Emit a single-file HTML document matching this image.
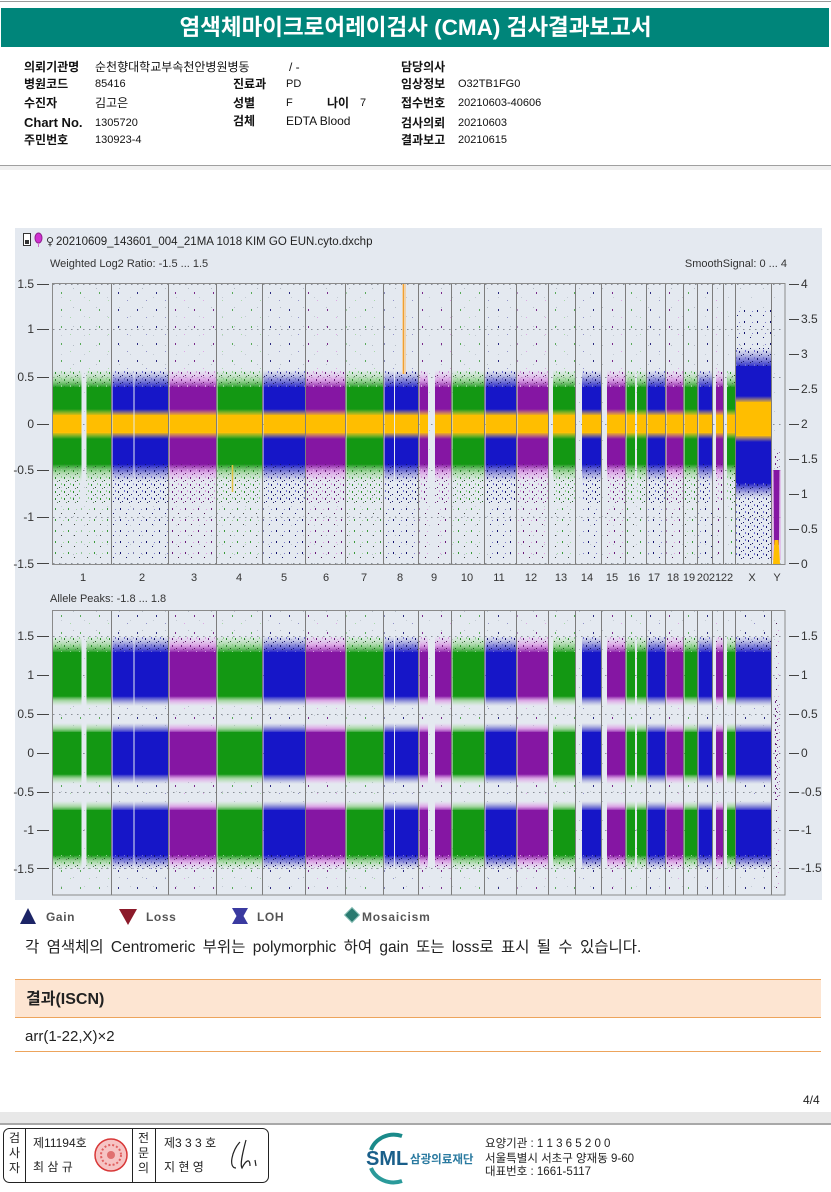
<!DOCTYPE html>
<html><head><meta charset="utf-8">
<style>
html,body{margin:0;padding:0;background:#fff;}
body{width:831px;height:1192px;position:relative;overflow:hidden;font-family:"Liberation Sans","Noto Sans CJK KR",sans-serif;color:#111;}
.a{position:absolute;white-space:nowrap;}
.l{font-weight:bold;font-size:12px;line-height:14px;}
.v{font-size:12px;line-height:14px;}
.n{font-size:11px;line-height:14px;}
</style></head><body>

<!-- header -->
<div class="a" style="left:0;top:1px;width:831px;height:1px;background:#9a9a9a"></div>
<div class="a" style="left:1px;top:8px;width:828px;height:39px;background:#00857a;"></div>
<div class="a" style="left:0;top:8px;width:831px;height:39px;line-height:39px;text-align:center;color:#fff;font-size:22.5px;font-weight:bold;">염색체마이크로어레이검사 (CMA) 검사결과보고서</div>

<div class="a l" style="left:24px;top:60px">의뢰기관명</div>
<div class="a v" style="left:95px;top:60px">순천향대학교부속천안병원병동</div>
<div class="a v" style="left:289px;top:60px">/ -</div>
<div class="a l" style="left:401px;top:60px">담당의사</div>

<div class="a l" style="left:24px;top:77px">병원코드</div>
<div class="a n" style="left:95px;top:77px">85416</div>
<div class="a l" style="left:233px;top:77px">진료과</div>
<div class="a n" style="left:286px;top:77px">PD</div>
<div class="a l" style="left:401px;top:77px">임상정보</div>
<div class="a n" style="left:458px;top:77px">O32TB1FG0</div>

<div class="a l" style="left:24px;top:96px">수진자</div>
<div class="a v" style="left:95px;top:96px">김고은</div>
<div class="a l" style="left:233px;top:96px">성별</div>
<div class="a n" style="left:286px;top:96px">F</div>
<div class="a l" style="left:327px;top:96px">나이</div>
<div class="a n" style="left:360px;top:96px">7</div>
<div class="a l" style="left:401px;top:96px">접수번호</div>
<div class="a n" style="left:458px;top:96px">20210603-40606</div>

<div class="a l" style="left:24px;top:116px;font-size:13px">Chart No.</div>
<div class="a n" style="left:95px;top:116px">1305720</div>
<div class="a l" style="left:233px;top:114px">검체</div>
<div class="a v" style="left:286px;top:114px">EDTA Blood</div>
<div class="a l" style="left:401px;top:116px">검사의뢰</div>
<div class="a n" style="left:458px;top:116px">20210603</div>

<div class="a l" style="left:24px;top:133px">주민번호</div>
<div class="a n" style="left:95px;top:133px">130923-4</div>
<div class="a l" style="left:401px;top:133px">결과보고</div>
<div class="a n" style="left:458px;top:133px">20210615</div>

<div class="a" style="left:0;top:165px;width:831px;height:1px;background:#a0a0a0"></div>
<div class="a" style="left:0;top:166px;width:831px;height:4px;background:#f0f0f0"></div>

<!-- chart -->
<svg class="a" style="left:0;top:0" width="831" height="940" viewBox="0 0 831 940" xmlns="http://www.w3.org/2000/svg" font-family="Liberation Sans, sans-serif">
<defs>
 <clipPath id="cG">
  <rect x="53" y="280" width="28.5" height="620"/><rect x="86.5" y="280" width="24.5" height="620"/>
  <rect x="217.5" y="280" width="44.5" height="620"/><rect x="346.5" y="280" width="36.5" height="620"/>
  <rect x="452.5" y="280" width="31.5" height="620"/><rect x="553" y="280" width="22" height="620"/>
  <rect x="626.5" y="280" width="8.5" height="620"/><rect x="637" y="280" width="9" height="620"/>
  <rect x="684.5" y="280" width="12.5" height="620"/><rect x="727" y="280" width="8" height="620"/>
 </clipPath>
 <clipPath id="cB">
  <rect x="112.5" y="280" width="21" height="620"/><rect x="134.5" y="280" width="33.5" height="620"/>
  <rect x="263.5" y="280" width="41.5" height="620"/><rect x="384.5" y="280" width="9.5" height="620"/>
  <rect x="395" y="280" width="23" height="620"/><rect x="485.5" y="280" width="30.5" height="620"/>
  <rect x="582" y="280" width="19" height="620"/><rect x="647.5" y="280" width="18" height="620"/>
  <rect x="698.5" y="280" width="13.5" height="620"/>
 </clipPath>
 <clipPath id="cBX">
  <rect x="112.5" y="280" width="21" height="620"/><rect x="134.5" y="280" width="33.5" height="620"/>
  <rect x="263.5" y="280" width="41.5" height="620"/><rect x="384.5" y="280" width="9.5" height="620"/>
  <rect x="395" y="280" width="23" height="620"/><rect x="485.5" y="280" width="30.5" height="620"/>
  <rect x="582" y="280" width="19" height="620"/><rect x="647.5" y="280" width="18" height="620"/>
  <rect x="698.5" y="280" width="13.5" height="620"/><rect x="736" y="280" width="35" height="620"/>
 </clipPath>
 <clipPath id="cP">
  <rect x="169.5" y="280" width="46.5" height="620"/><rect x="306" y="280" width="39" height="620"/>
  <rect x="419.5" y="280" width="8.5" height="620"/><rect x="435" y="280" width="16" height="620"/>
  <rect x="517.5" y="280" width="30.5" height="620"/><rect x="607" y="280" width="18" height="620"/>
  <rect x="666.5" y="280" width="16.5" height="620"/><rect x="716" y="280" width="7" height="620"/>
 </clipPath>

 <linearGradient id="uG" x1="0" y1="0" x2="0" y2="1"><stop offset="0" stop-color="#b0e4a8" stop-opacity="0"/><stop offset="0.55" stop-color="#8fd088" stop-opacity="0.75"/><stop offset="1" stop-color="#139813"/></linearGradient>
 <linearGradient id="dG" x1="0" y1="0" x2="0" y2="1"><stop offset="0" stop-color="#139813"/><stop offset="0.45" stop-color="#8fd088" stop-opacity="0.75"/><stop offset="1" stop-color="#b0e4a8" stop-opacity="0"/></linearGradient>
 <linearGradient id="uB" x1="0" y1="0" x2="0" y2="1"><stop offset="0" stop-color="#9a9ad8" stop-opacity="0"/><stop offset="0.55" stop-color="#6a6ad0" stop-opacity="0.75"/><stop offset="1" stop-color="#1616c8"/></linearGradient>
 <linearGradient id="dB" x1="0" y1="0" x2="0" y2="1"><stop offset="0" stop-color="#1616c8"/><stop offset="0.45" stop-color="#6a6ad0" stop-opacity="0.75"/><stop offset="1" stop-color="#9a9ad8" stop-opacity="0"/></linearGradient>
 <linearGradient id="uP" x1="0" y1="0" x2="0" y2="1"><stop offset="0" stop-color="#e8b4ee" stop-opacity="0"/><stop offset="0.55" stop-color="#d894e2" stop-opacity="0.8"/><stop offset="1" stop-color="#8516a3"/></linearGradient>
 <linearGradient id="dP" x1="0" y1="0" x2="0" y2="1"><stop offset="0" stop-color="#8516a3"/><stop offset="0.45" stop-color="#d894e2" stop-opacity="0.8"/><stop offset="1" stop-color="#e8b4ee" stop-opacity="0"/></linearGradient>
 <linearGradient id="uY" x1="0" y1="0" x2="0" y2="1"><stop offset="0" stop-color="#ffd860" stop-opacity="0"/><stop offset="1" stop-color="#ffbe00"/></linearGradient>
 <linearGradient id="dY" x1="0" y1="0" x2="0" y2="1"><stop offset="0" stop-color="#ffbe00"/><stop offset="1" stop-color="#ffd860" stop-opacity="0"/></linearGradient>

 <pattern id="pG1" width="9" height="7" patternUnits="userSpaceOnUse"><rect x="1" y="1" width="1" height="2" fill="#2a8a2a"/><rect x="5" y="4" width="1" height="1" fill="#1a5a1a"/><rect x="7" y="0" width="1" height="2" fill="#90d090"/><rect x="3" y="5" width="1" height="1" fill="#5a7a5a"/></pattern>
 <pattern id="pG2" width="13" height="11" patternUnits="userSpaceOnUse"><rect x="3" y="2" width="1" height="2" fill="#3a9a3a"/><rect x="9" y="7" width="1" height="1" fill="#404a40"/><rect x="11" y="3" width="1" height="1" fill="#a0d8a0"/></pattern>
 <pattern id="pG3" width="19" height="17" patternUnits="userSpaceOnUse"><rect x="4" y="3" width="1" height="2" fill="#5aaa5a"/><rect x="13" y="11" width="1" height="1" fill="#a8d8a8"/></pattern>
 <pattern id="pB1" width="9" height="7" patternUnits="userSpaceOnUse"><rect x="1" y="1" width="1" height="2" fill="#14146e"/><rect x="5" y="4" width="1" height="1" fill="#14146e"/><rect x="7" y="0" width="1" height="2" fill="#7070d0"/><rect x="3" y="5" width="1" height="1" fill="#202060"/></pattern>
 <pattern id="pB2" width="13" height="11" patternUnits="userSpaceOnUse"><rect x="3" y="2" width="1" height="2" fill="#14146e"/><rect x="9" y="7" width="1" height="1" fill="#14146e"/><rect x="11" y="3" width="1" height="1" fill="#8080c8"/></pattern>
 <pattern id="pB3" width="19" height="17" patternUnits="userSpaceOnUse"><rect x="4" y="3" width="1" height="2" fill="#2a2a80"/><rect x="13" y="11" width="1" height="1" fill="#9090c8"/></pattern>
 <pattern id="pP1" width="9" height="7" patternUnits="userSpaceOnUse"><rect x="1" y="1" width="1" height="2" fill="#6a1a7a"/><rect x="5" y="4" width="1" height="1" fill="#5a1060"/><rect x="7" y="0" width="1" height="2" fill="#d8a0e0"/><rect x="3" y="5" width="1" height="1" fill="#7a3a8a"/></pattern>
 <pattern id="pP2" width="13" height="11" patternUnits="userSpaceOnUse"><rect x="3" y="2" width="1" height="2" fill="#6a1a7a"/><rect x="9" y="7" width="1" height="1" fill="#4a104a"/><rect x="11" y="3" width="1" height="1" fill="#dca0e0"/></pattern>
 <pattern id="pP3" width="19" height="17" patternUnits="userSpaceOnUse"><rect x="4" y="3" width="1" height="2" fill="#7a2a8a"/><rect x="13" y="11" width="1" height="1" fill="#dca8e4"/></pattern>
 <pattern id="pN" width="23" height="19" patternUnits="userSpaceOnUse"><rect x="4" y="3" width="1" height="1" fill="#b4bcc6"/><rect x="15" y="12" width="1" height="1" fill="#c2c9d2"/></pattern>
</defs>

<!-- panel -->
<rect x="15" y="228" width="807" height="672" fill="#e4e9f0"/>

<!-- title row -->
<rect x="23.5" y="233.5" width="7" height="12" fill="#fff" stroke="#333"/>
<rect x="25" y="240" width="4" height="4" fill="#333"/>
<ellipse cx="38.5" cy="238" rx="3.5" ry="5" fill="#d030d0" stroke="#902090"/>
<line x1="38.5" y1="243" x2="38.5" y2="247" stroke="#d070d0"/>
<text x="46" y="245" font-size="11" font-family="DejaVu Sans, sans-serif" fill="#333">♀</text>
<text x="56" y="245" font-size="11.5" fill="#222">20210609_143601_004_21MA 1018 KIM GO EUN.cyto.dxchp</text>
<text x="50" y="267" font-size="11" fill="#333">Weighted Log2 Ratio: -1.5 ... 1.5</text>
<text x="787" y="267" font-size="11" fill="#333" text-anchor="end">SmoothSignal: 0 ... 4</text>
<text x="50" y="602" font-size="11" fill="#333">Allele Peaks: -1.8 ... 1.8</text>

<!-- noise -->
<rect x="53" y="284" width="732" height="280" fill="url(#pN)"/>
<rect x="53" y="611" width="732" height="284" fill="url(#pN)"/>

<!-- grid -->
<g stroke="#8a9098" stroke-width="1" stroke-dasharray="1.5,4.5">
 <line x1="53" y1="284.5" x2="785" y2="284.5"/><line x1="53" y1="329.5" x2="785" y2="329.5"/>
 <line x1="53" y1="377.5" x2="785" y2="377.5"/><line x1="53" y1="424.5" x2="785" y2="424.5"/>
 <line x1="53" y1="470.5" x2="785" y2="470.5"/><line x1="53" y1="517.5" x2="785" y2="517.5"/>
 <line x1="53" y1="563.5" x2="785" y2="563.5"/>
 <line x1="53" y1="636.5" x2="785" y2="636.5"/><line x1="53" y1="675.5" x2="785" y2="675.5"/>
 <line x1="53" y1="714.5" x2="785" y2="714.5"/><line x1="53" y1="753.5" x2="785" y2="753.5"/>
 <line x1="53" y1="792.5" x2="785" y2="792.5"/><line x1="53" y1="830.5" x2="785" y2="830.5"/>
 <line x1="53" y1="868.5" x2="785" y2="868.5"/>
</g>

<!-- GREEN upper+lower -->
<g clip-path="url(#cG)">
 <rect x="50" y="292" width="740" height="80" fill="url(#pG3)"/>
 <rect x="50" y="370" width="740" height="18" fill="url(#uG)"/>
 <rect x="50" y="370" width="740" height="18" fill="url(#pG1)"/>
 <rect x="50" y="387" width="740" height="78" fill="#139813"/>
 <rect x="50" y="464" width="740" height="18" fill="url(#dG)"/>
 <rect x="50" y="464" width="740" height="40" fill="url(#pG1)"/>
 <rect x="50" y="504" width="740" height="59" fill="url(#pG2)"/>
 <rect x="50" y="409" width="740" height="7" fill="url(#uY)"/>
 <rect x="50" y="415" width="740" height="18" fill="#ffbe00"/>
 <rect x="50" y="432" width="740" height="7" fill="url(#dY)"/>

 <rect x="50" y="612" width="740" height="25" fill="url(#pG3)"/>
 <rect x="50" y="636" width="740" height="17" fill="url(#uG)"/>
 <rect x="50" y="636" width="740" height="17" fill="url(#pG1)"/>
 <rect x="50" y="652" width="740" height="45" fill="#139813"/>
 <rect x="50" y="696" width="740" height="10" fill="url(#dG)"/>
 <rect x="50" y="706" width="740" height="18" fill="url(#pG3)"/>
 <rect x="50" y="723" width="740" height="10" fill="url(#uG)"/>
 <rect x="50" y="732" width="740" height="43" fill="#139813"/>
 <rect x="50" y="774" width="740" height="10" fill="url(#dG)"/>
 <rect x="50" y="784" width="740" height="18" fill="url(#pG3)"/>
 <rect x="50" y="801" width="740" height="10" fill="url(#uG)"/>
 <rect x="50" y="810" width="740" height="46" fill="#139813"/>
 <rect x="50" y="855" width="740" height="14" fill="url(#dG)"/>
 <rect x="50" y="855" width="740" height="14" fill="url(#pG1)"/>
 <rect x="50" y="869" width="740" height="25" fill="url(#pG3)"/>
</g>

<!-- BLUE upper -->
<g clip-path="url(#cB)">
 <rect x="50" y="292" width="740" height="80" fill="url(#pB3)"/>
 <rect x="50" y="370" width="740" height="18" fill="url(#uB)"/>
 <rect x="50" y="370" width="740" height="18" fill="url(#pB1)"/>
 <rect x="50" y="387" width="740" height="78" fill="#1616c8"/>
 <rect x="50" y="464" width="740" height="18" fill="url(#dB)"/>
 <rect x="50" y="464" width="740" height="40" fill="url(#pB1)"/>
 <rect x="50" y="504" width="740" height="59" fill="url(#pB2)"/>
 <rect x="50" y="409" width="740" height="7" fill="url(#uY)"/>
 <rect x="50" y="415" width="740" height="18" fill="#ffbe00"/>
 <rect x="50" y="432" width="740" height="7" fill="url(#dY)"/>
</g>
<!-- BLUE lower (incl X) -->
<g clip-path="url(#cBX)">
 <rect x="50" y="612" width="740" height="25" fill="url(#pB3)"/>
 <rect x="50" y="636" width="740" height="17" fill="url(#uB)"/>
 <rect x="50" y="636" width="740" height="17" fill="url(#pB1)"/>
 <rect x="50" y="652" width="740" height="45" fill="#1616c8"/>
 <rect x="50" y="696" width="740" height="10" fill="url(#dB)"/>
 <rect x="50" y="706" width="740" height="18" fill="url(#pB3)"/>
 <rect x="50" y="723" width="740" height="10" fill="url(#uB)"/>
 <rect x="50" y="732" width="740" height="43" fill="#1616c8"/>
 <rect x="50" y="774" width="740" height="10" fill="url(#dB)"/>
 <rect x="50" y="784" width="740" height="18" fill="url(#pB3)"/>
 <rect x="50" y="801" width="740" height="10" fill="url(#uB)"/>
 <rect x="50" y="810" width="740" height="46" fill="#1616c8"/>
 <rect x="50" y="855" width="740" height="14" fill="url(#dB)"/>
 <rect x="50" y="855" width="740" height="14" fill="url(#pB1)"/>
 <rect x="50" y="869" width="740" height="25" fill="url(#pB3)"/>
</g>

<!-- PURPLE -->
<g clip-path="url(#cP)">
 <rect x="50" y="292" width="740" height="80" fill="url(#pP3)"/>
 <rect x="50" y="370" width="740" height="18" fill="url(#uP)"/>
 <rect x="50" y="370" width="740" height="18" fill="url(#pP1)"/>
 <rect x="50" y="387" width="740" height="78" fill="#8516a3"/>
 <rect x="50" y="464" width="740" height="18" fill="url(#dP)"/>
 <rect x="50" y="464" width="740" height="40" fill="url(#pP1)"/>
 <rect x="50" y="504" width="740" height="59" fill="url(#pP2)"/>
 <rect x="50" y="409" width="740" height="7" fill="url(#uY)"/>
 <rect x="50" y="415" width="740" height="18" fill="#ffbe00"/>
 <rect x="50" y="432" width="740" height="7" fill="url(#dY)"/>

 <rect x="50" y="612" width="740" height="25" fill="url(#pP3)"/>
 <rect x="50" y="636" width="740" height="17" fill="url(#uP)"/>
 <rect x="50" y="636" width="740" height="17" fill="url(#pP1)"/>
 <rect x="50" y="652" width="740" height="45" fill="#8516a3"/>
 <rect x="50" y="696" width="740" height="10" fill="url(#dP)"/>
 <rect x="50" y="706" width="740" height="18" fill="url(#pP3)"/>
 <rect x="50" y="723" width="740" height="10" fill="url(#uP)"/>
 <rect x="50" y="732" width="740" height="43" fill="#8516a3"/>
 <rect x="50" y="774" width="740" height="10" fill="url(#dP)"/>
 <rect x="50" y="784" width="740" height="18" fill="url(#pP3)"/>
 <rect x="50" y="801" width="740" height="10" fill="url(#uP)"/>
 <rect x="50" y="810" width="740" height="46" fill="#8516a3"/>
 <rect x="50" y="855" width="740" height="14" fill="url(#dP)"/>
 <rect x="50" y="855" width="740" height="14" fill="url(#pP1)"/>
 <rect x="50" y="869" width="740" height="25" fill="url(#pP3)"/>
</g>

<!-- X upper -->
<rect x="736" y="310" width="35" height="40" fill="url(#pB2)"/>
<rect x="736" y="348" width="35" height="20" fill="url(#uB)"/>
<rect x="736" y="348" width="35" height="20" fill="url(#pB1)"/>
<rect x="736" y="366" width="35" height="118" fill="#1616c8"/>
<rect x="736" y="483" width="35" height="16" fill="url(#dB)"/>
<rect x="736" y="483" width="35" height="77" fill="url(#pB1)"/>
<rect x="736" y="396" width="35" height="7" fill="url(#uY)"/>
<rect x="736" y="402" width="35" height="34" fill="#ffbe00"/>
<rect x="736" y="435" width="35" height="7" fill="url(#dY)"/>

<!-- Y upper -->
<rect x="772" y="470" width="9" height="90" fill="#e0a8e6" opacity="0.6"/>
<rect x="773.5" y="452" width="6" height="20" fill="url(#pP1)"/>
<polygon points="773.5,470 779.5,470 779,545 774,545" fill="#8516a3"/>
<polygon points="773,564 780,564 778.5,540 774.5,540" fill="#ffbe00"/>
<!-- Y lower -->
<rect x="773.5" y="700" width="6" height="100" fill="url(#pP1)"/>
<rect x="773.5" y="620" width="6" height="270" fill="url(#pP2)"/>

<!-- chr8 smooth spike -->
<rect x="402" y="284" width="4" height="90" fill="#f4cc98" opacity="0.8"/>
<line x1="403.5" y1="284" x2="403.5" y2="374" stroke="#f0a030" stroke-width="1"/>
<line x1="232.5" y1="465" x2="232.5" y2="492" stroke="#e0c040" stroke-width="1.5"/>

<!-- chromosome separators -->
<g stroke="#7d7d7d" stroke-width="1">
 <path d="M111.5 284V564M168.5 284V564M216.5 284V564M262.5 284V564M305.5 284V564M345.5 284V564M383.5 284V564M418.5 284V564M451.5 284V564M484.5 284V564M516.5 284V564M548.5 284V564M575.5 284V564M601.5 284V564M625.5 284V564M646.5 284V564M665.5 284V564M683.5 284V564M697.5 284V564M712.5 284V564M723.5 284V564M735.5 284V564M771.5 284V564"/>
 <path d="M111.5 611V895M168.5 611V895M216.5 611V895M262.5 611V895M305.5 611V895M345.5 611V895M383.5 611V895M418.5 611V895M451.5 611V895M484.5 611V895M516.5 611V895M548.5 611V895M575.5 611V895M601.5 611V895M625.5 611V895M646.5 611V895M665.5 611V895M683.5 611V895M697.5 611V895M712.5 611V895M723.5 611V895M735.5 611V895M771.5 611V895"/>
</g>
<!-- frames -->
<rect x="52.5" y="283.5" width="732.5" height="281" fill="none" stroke="#8a8a8a"/>
<rect x="52.5" y="610.5" width="732.5" height="284.5" fill="none" stroke="#8a8a8a"/>

<!-- axes -->
<g font-size="12" fill="#333" text-anchor="end">
 <text x="34" y="288">1.5</text><text x="34" y="333">1</text><text x="34" y="381">0.5</text>
 <text x="34" y="428">0</text><text x="34" y="474">-0.5</text><text x="34" y="521">-1</text><text x="34" y="568">-1.5</text>
 <text x="34" y="640">1.5</text><text x="34" y="679">1</text><text x="34" y="718">0.5</text>
 <text x="34" y="757">0</text><text x="34" y="796">-0.5</text><text x="34" y="834">-1</text><text x="34" y="873">-1.5</text>
</g>
<g stroke="#444" stroke-width="1">
 <path d="M37 284.5H49M37 329.5H49M37 377.5H49M37 424.5H49M37 470.5H49M37 517.5H49M37 563.5H49"/>
 <path d="M37 636.5H49M37 675.5H49M37 714.5H49M37 753.5H49M37 792.5H49M37 830.5H49M37 868.5H49"/>
 <path d="M789 284.5H799M789 319.5H799M789 354.5H799M789 389.5H799M789 424.5H799M789 459.5H799M789 494.5H799M789 529.5H799M789 563.5H799"/>
 <path d="M789 636.5H799M789 675.5H799M789 714.5H799M789 753.5H799M789 792.5H799M789 830.5H799M789 868.5H799"/>
</g>
<g font-size="12" fill="#333">
 <text x="801" y="288">4</text><text x="801" y="323">3.5</text><text x="801" y="358">3</text>
 <text x="801" y="393">2.5</text><text x="801" y="428">2</text><text x="801" y="463">1.5</text>
 <text x="801" y="498">1</text><text x="801" y="533">0.5</text><text x="801" y="568">0</text>
 <text x="801" y="640">1.5</text><text x="801" y="679">1</text><text x="801" y="718">0.5</text>
 <text x="801" y="757">0</text><text x="801" y="796">-0.5</text><text x="801" y="834">-1</text><text x="801" y="872">-1.5</text>
</g>

<!-- chromosome labels -->
<g font-size="11" fill="#333" text-anchor="middle">
 <text x="83" y="581">1</text><text x="142" y="581">2</text><text x="194" y="581">3</text><text x="239" y="581">4</text>
 <text x="284" y="581">5</text><text x="326" y="581">6</text><text x="364" y="581">7</text><text x="400" y="581">8</text>
 <text x="434" y="581">9</text><text x="467" y="581">10</text><text x="499" y="581">11</text><text x="531" y="581">12</text>
 <text x="561" y="581">13</text><text x="587" y="581">14</text><text x="612" y="581">15</text><text x="634" y="581">16</text>
 <text x="654" y="581">17</text><text x="673" y="581">18</text><text x="689" y="581">19</text><text x="703" y="581">20</text>
 <text x="715" y="581">21</text><text x="727" y="581">22</text><text x="752" y="581">X</text><text x="777" y="581">Y</text>
</g>

<!-- legend -->
<polygon points="20,924 28,908 36,924" fill="#1c2466"/>
<text x="46" y="921" font-size="12" font-weight="bold" fill="#555" letter-spacing="0.6">Gain</text>
<polygon points="119,909 137,909 128,925" fill="#8c1a2a"/>
<text x="146" y="921" font-size="12" font-weight="bold" fill="#555" letter-spacing="0.6">Loss</text>
<polygon points="232,908 248,908 243.5,916 248,924 232,924 236.5,916" fill="#3a3aa0"/>
<text x="257" y="921" font-size="12" font-weight="bold" fill="#555" letter-spacing="0.6">LOH</text>
<polygon points="352,907.5 359.5,915 352,922.5 344.5,915" fill="#2a7a70" stroke="#8ac0b8"/>
<text x="362" y="921" font-size="12" font-weight="bold" fill="#555" letter-spacing="0.8">Mosaicism</text>
</svg>

<!-- sentence -->
<div class="a" style="left:25px;top:938px;font-size:15.5px;line-height:20px;word-spacing:3px;color:#222">각 염색체의 Centromeric 부위는 polymorphic 하여 gain 또는 loss로 표시 될 수 있습니다.</div>

<!-- results -->
<div class="a" style="left:15px;top:979px;width:806px;height:37px;background:#fde5d2;border-top:1.5px solid #eda45c;border-bottom:1.5px solid #eda45c;"></div>
<div class="a" style="left:26px;top:989px;font-size:16px;line-height:22px;font-weight:bold;color:#222">결과(ISCN)</div>
<div class="a" style="left:15px;top:1051px;width:806px;height:0;border-top:1.5px solid #eda45c;"></div>
<div class="a" style="left:25px;top:1027px;font-size:15px;line-height:20px;color:#222">arr(1-22,X)×2</div>

<!-- page footer -->
<div class="a" style="left:803px;top:1093px;font-size:12px;line-height:14px;color:#222">4/4</div>
<div class="a" style="left:0;top:1112px;width:831px;height:11px;background:#e8e8e8"></div>
<div class="a" style="left:0;top:1123px;width:831px;height:2px;background:#a8a8a8"></div>

<svg class="a" style="left:0;top:1125px" width="831" height="67" viewBox="0 1125 831 67" xmlns="http://www.w3.org/2000/svg" font-family="Liberation Sans, Noto Sans CJK KR, sans-serif">
 <rect x="3.5" y="1128.5" width="265" height="54" rx="6" fill="none" stroke="#222"/>
 <path d="M25.5 1128.5V1182.5M132.5 1128.5V1182.5M155.5 1128.5V1182.5" stroke="#222"/>
 <g font-size="12" fill="#222" text-anchor="middle">
  <text x="14.5" y="1142">검</text><text x="14.5" y="1157">사</text><text x="14.5" y="1172">자</text>
  <text x="143.5" y="1142">전</text><text x="143.5" y="1157">문</text><text x="143.5" y="1172">의</text>
 </g>
 <g font-size="12" fill="#222">
  <text x="33" y="1147">제11194호</text><text x="33" y="1171">최 삼 규</text>
  <text x="164" y="1147">제3 3 3 호</text><text x="164" y="1171">지 현 영</text>
 </g>
 <circle cx="111" cy="1155" r="16" fill="#f6c4c4" stroke="#d83838" stroke-width="1.5"/>
 <circle cx="111" cy="1155" r="10" fill="none" stroke="#e06060" stroke-width="2" stroke-dasharray="2 2"/>
 <circle cx="111" cy="1155" r="4" fill="#e07070"/>
 <path d="M240 1142 C232 1150,228 1168,236 1168 M246 1140 C242 1155,240 1165,242 1168 C246 1160,250 1158,250 1166 M255 1160 L256 1166" stroke="#222" fill="none" stroke-width="1.2"/>

 <path d="M402 1136 A24 22 0 0 0 371 1150" stroke="#1a8a8a" stroke-width="4" fill="none"/>
 <path d="M371 1168 A24 22 0 0 0 402 1181" stroke="#2a9a9a" stroke-width="4" fill="none"/>
 <text x="366" y="1165" font-size="20" font-weight="bold" fill="#1a5f8a">SML</text>
 <text x="410" y="1163" font-size="11.5" font-weight="bold" fill="#2a7aa0">삼광의료재단</text>
 <g font-size="11.5" fill="#222">
  <text x="485" y="1147">요양기관 : 1 1 3 6 5 2 0 0</text>
  <text x="485" y="1162">서울특별시 서초구 양재동 9-60</text>
  <text x="485" y="1175">대표번호 : 1661-5117</text>
 </g>
</svg>

</body></html>
